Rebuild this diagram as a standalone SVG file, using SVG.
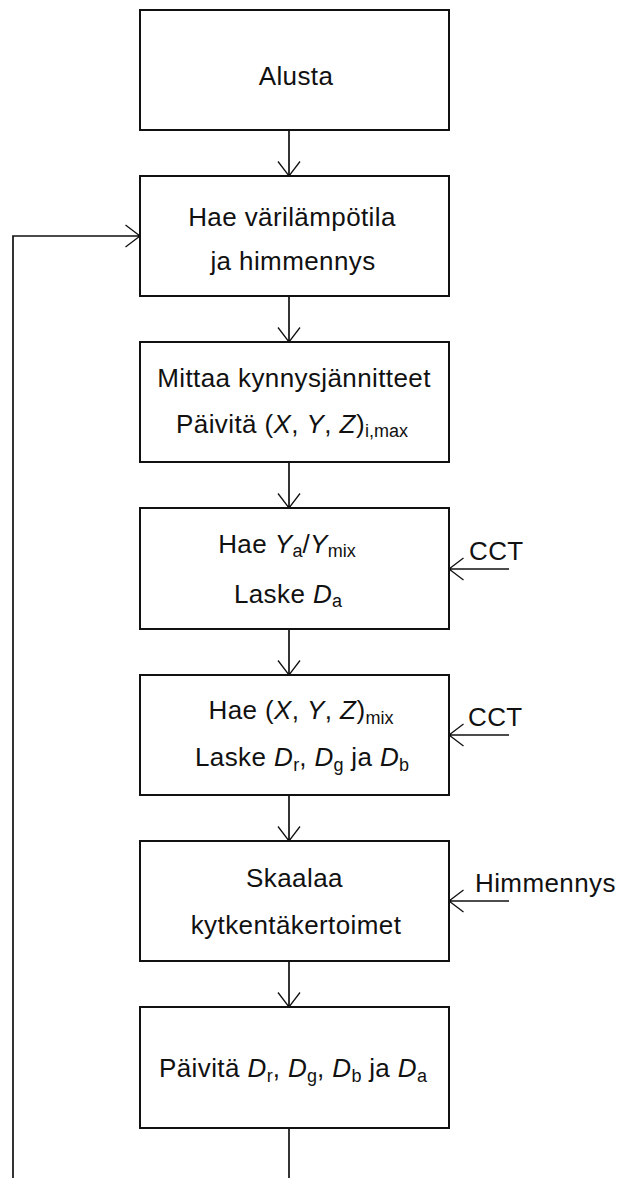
<svg xmlns="http://www.w3.org/2000/svg" width="622" height="1178" viewBox="0 0 622 1178">
  <style>
    .box { fill: #ffffff; stroke: #111111; stroke-width: 2; }
    .lbl { font-family: "Liberation Sans", Arial, sans-serif; font-size: 26px; fill: #111111; letter-spacing: 0.4px; }
    .mid { text-anchor: middle; }
    .it { font-style: italic; }
    .sub { font-size: 18px; letter-spacing: 0; }
    .wire { fill: none; stroke: #111111; stroke-width: 1.7; }
  </style>
  <defs>
    <marker id="arrow" viewBox="-17 -13 19 26" refX="0" refY="0" markerWidth="19" markerHeight="26" markerUnits="userSpaceOnUse" orient="auto">
      <path d="M-14.5,-11 L0,0 L-14.5,11" fill="none" stroke="#111111" stroke-width="1.3"/>
      <circle cx="-0.5" cy="0" r="1.8" fill="#111111"/>
    </marker>
  </defs>
  <rect width="622" height="1178" fill="#ffffff"/>

  <!-- connectors -->
  <g id="connectors">
    <line class="wire" x1="289" y1="130" x2="289" y2="176" marker-end="url(#arrow)"/>
    <line class="wire" x1="289" y1="296" x2="289" y2="342" marker-end="url(#arrow)"/>
    <line class="wire" x1="289" y1="462" x2="289" y2="508" marker-end="url(#arrow)"/>
    <line class="wire" x1="289" y1="629" x2="289" y2="675" marker-end="url(#arrow)"/>
    <line class="wire" x1="289" y1="795" x2="289" y2="841" marker-end="url(#arrow)"/>
    <line class="wire" x1="289" y1="961" x2="289" y2="1007" marker-end="url(#arrow)"/>
    <line class="wire" x1="289" y1="1128" x2="289" y2="1178"/>
    <polyline class="wire" points="13,1178 13,236 140,236" marker-end="url(#arrow)"/>
    <line class="wire" x1="509" y1="569" x2="449" y2="569" marker-end="url(#arrow)"/>
    <line class="wire" x1="509" y1="735" x2="449" y2="735" marker-end="url(#arrow)"/>
    <line class="wire" x1="509" y1="901" x2="449" y2="901" marker-end="url(#arrow)"/>
  </g>

  <!-- side inputs -->
  <g id="input-cct-1">
    <text class="lbl" x="469" y="560">CCT</text>
  </g>
  <g id="input-cct-2">
    <text class="lbl" x="468" y="726">CCT</text>
  </g>
  <g id="input-himmennys">
    <text class="lbl" x="475" y="892">Himmennys</text>
  </g>

  <!-- process steps -->
  <g id="alusta">
    <rect class="box" x="140" y="10" width="309" height="120"/>
    <text class="lbl mid" x="296" y="85">Alusta</text>
  </g>

  <g id="hae-varilampotila">
    <rect class="box" x="140" y="176" width="309" height="120"/>
    <text class="lbl mid" x="292" y="226">Hae värilämpötila</text>
    <text class="lbl mid" x="293" y="270">ja himmennys</text>
  </g>

  <g id="mittaa">
    <rect class="box" x="140" y="342" width="309" height="120"/>
    <text class="lbl mid" x="294" y="387">Mittaa kynnysjännitteet</text>
    <text class="lbl mid" x="292" y="433">Päivitä (<tspan class="it">X</tspan>, <tspan class="it">Y</tspan>, <tspan class="it">Z</tspan>)<tspan class="sub" dy="4">i,max</tspan></text>
  </g>

  <g id="hae-ya">
    <rect class="box" x="140" y="508" width="309" height="121"/>
    <text class="lbl mid" x="287" y="553">Hae <tspan class="it">Y</tspan><tspan class="sub" dy="4">a</tspan><tspan dy="-4">/</tspan><tspan class="it">Y</tspan><tspan class="sub" dy="4">mix</tspan></text>
    <text class="lbl mid" x="288" y="603">Laske <tspan class="it">D</tspan><tspan class="sub" dy="4">a</tspan></text>
  </g>

  <g id="hae-xyz">
    <rect class="box" x="140" y="675" width="309" height="120"/>
    <text class="lbl mid" x="301" y="719">Hae (<tspan class="it">X</tspan>, <tspan class="it">Y</tspan>, <tspan class="it">Z</tspan>)<tspan class="sub" dy="5">mix</tspan></text>
    <text class="lbl mid" x="302" y="766">Laske <tspan class="it">D</tspan><tspan class="sub" dy="5">r</tspan><tspan dy="-5">, </tspan><tspan class="it">D</tspan><tspan class="sub" dy="5">g</tspan><tspan dy="-5"> ja </tspan><tspan class="it">D</tspan><tspan class="sub" dy="5">b</tspan></text>
  </g>

  <g id="skaalaa">
    <rect class="box" x="140" y="841" width="309" height="120"/>
    <text class="lbl mid" x="294.5" y="887">Skaalaa</text>
    <text class="lbl mid" x="296" y="934">kytkentäkertoimet</text>
  </g>

  <g id="paivita">
    <rect class="box" x="140" y="1007" width="309" height="121"/>
    <text class="lbl mid" x="293" y="1077">Päivitä <tspan class="it">D</tspan><tspan class="sub" dy="5">r</tspan><tspan dy="-5">, </tspan><tspan class="it">D</tspan><tspan class="sub" dy="5">g</tspan><tspan dy="-5">, </tspan><tspan class="it">D</tspan><tspan class="sub" dy="5">b</tspan><tspan dy="-5"> ja </tspan><tspan class="it">D</tspan><tspan class="sub" dy="5">a</tspan></text>
  </g>
</svg>
